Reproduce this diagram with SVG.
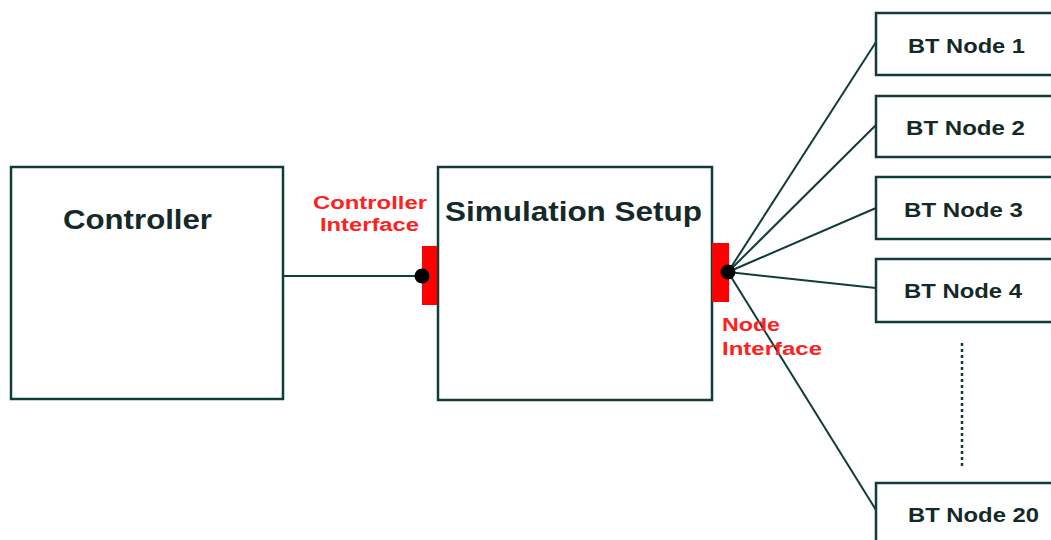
<svg xmlns="http://www.w3.org/2000/svg" width="1051" height="540" viewBox="0 0 1051 540">
<style>
.box{fill:#fff;stroke:#103c3a;stroke-width:2.5}
.lbl{font-family:"Liberation Sans",Arial,sans-serif;font-weight:bold;fill:#142a29}
.big{font-size:27px}
.bt{font-size:20px}
.red{font-family:"Liberation Sans",Arial,sans-serif;font-weight:bold;font-size:18px;fill:#ff2020}
.wire{stroke:#103c3a;stroke-width:2;fill:none}
.port{fill:#ff0000}
.dot{fill:#000}
</style>
<rect width="1051" height="540" fill="#fff"/>
<g id="connectors">
<line class="wire" x1="283" y1="276" x2="422" y2="276"/>
<line class="wire" x1="728" y1="272" x2="876" y2="42"/>
<line class="wire" x1="728" y1="272" x2="876" y2="125"/>
<line class="wire" x1="728" y1="272" x2="876" y2="208"/>
<line class="wire" x1="728" y1="272" x2="876" y2="288"/>
<line class="wire" x1="728" y1="272" x2="876" y2="510"/>
<line x1="962" y1="343" x2="962" y2="466" stroke="#103c3a" stroke-width="2.5" stroke-dasharray="3,3"/>
</g>
<g id="controller">
<rect class="box" x="11" y="167" width="272" height="232"/>
<text class="lbl big" x="63" y="229" textLength="149" lengthAdjust="spacingAndGlyphs">Controller</text>
</g>
<g id="simulation-setup">
<rect class="box" x="438" y="167" width="274" height="233"/>
<text class="lbl big" x="445" y="221" textLength="257" lengthAdjust="spacingAndGlyphs">Simulation Setup</text>
</g>
<g id="controller-interface">
<rect class="port" x="422" y="246" width="15" height="59"/>
<circle class="dot" cx="422" cy="276" r="7.5"/>
<text class="red" x="313" y="209" textLength="114" lengthAdjust="spacingAndGlyphs">Controller</text>
<text class="red" x="320" y="231" textLength="99" lengthAdjust="spacingAndGlyphs">Interface</text>
</g>
<g id="node-interface">
<rect class="port" x="712" y="243" width="17" height="59"/>
<circle class="dot" cx="728" cy="272" r="7.5"/>
<text class="red" x="722" y="331" textLength="58" lengthAdjust="spacingAndGlyphs">Node</text>
<text class="red" x="722" y="355" textLength="100" lengthAdjust="spacingAndGlyphs">Interface</text>
</g>
<g id="bt-node-1">
<rect class="box" x="876" y="13" width="185" height="62"/>
<text class="lbl bt" x="908" y="53" textLength="117" lengthAdjust="spacingAndGlyphs">BT Node 1</text>
</g>
<g id="bt-node-2">
<rect class="box" x="876" y="96" width="185" height="61"/>
<text class="lbl bt" x="906" y="135" textLength="119" lengthAdjust="spacingAndGlyphs">BT Node 2</text>
</g>
<g id="bt-node-3">
<rect class="box" x="876" y="177" width="185" height="62"/>
<text class="lbl bt" x="904" y="217" textLength="119" lengthAdjust="spacingAndGlyphs">BT Node 3</text>
</g>
<g id="bt-node-4">
<rect class="box" x="876" y="259" width="185" height="63"/>
<text class="lbl bt" x="904" y="298" textLength="118" lengthAdjust="spacingAndGlyphs">BT Node 4</text>
</g>
<g id="bt-node-20">
<rect class="box" x="876" y="483" width="185" height="70"/>
<text class="lbl bt" x="908" y="522" textLength="131" lengthAdjust="spacingAndGlyphs">BT Node 20</text>
</g>
</svg>
